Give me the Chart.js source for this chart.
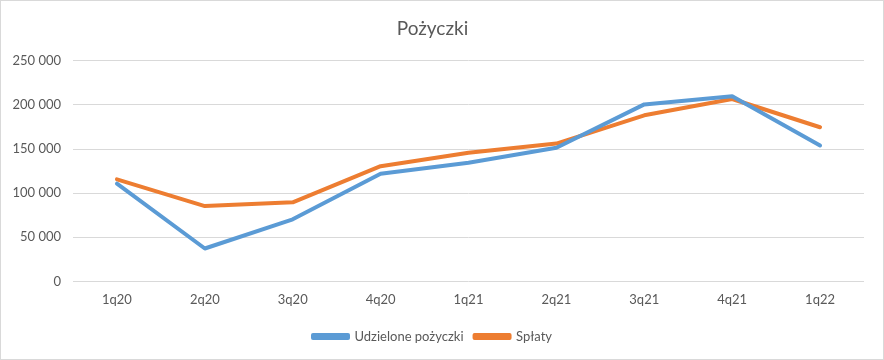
<!DOCTYPE html>
<html>
<head>
<meta charset="utf-8">
<script src="https://cdn.jsdelivr.net/npm/chart.js@4.4.1/dist/chart.umd.min.js"></script>
<style>
  html, body { margin: 0; padding: 0; background: #fff; }
  #wrap { width: 884px; height: 360px; box-sizing: border-box; border: 1px solid #d9d9d9; background: #fff; }
  canvas { display: block; }
</style>
</head>
<body>
<div id="wrap"><canvas id="c" width="882" height="358"></canvas></div>
<script>
const categories = ["1q20", "2q20", "3q20", "4q20", "1q21", "2q21", "3q21", "4q21", "1q22"];
const udzielonePozyczki = [110700, 37300, 70400, 122000, 134400, 151400, 200600, 209700, 154000];
const splaty = [115600, 85400, 89600, 130600, 145700, 156200, 188200, 206700, 174700];
const yTicks = [0, 50000, 100000, 150000, 200000, 250000];
const chartTitle = "Pożyczki";
const seriesNames = ["Udzielone pożyczki", "Spłaty"];

const FONT = "Lato, 'Open Sans', sans-serif";
const fmt = v => String(v).replace(/\B(?=(\d{3})+(?!\d))/g, " ");

new Chart(document.getElementById("c"), {
  type: "line",
  data: {
    labels: categories,
    datasets: [
      { label: seriesNames[0], data: udzielonePozyczki, borderColor: "#5B9BD5", backgroundColor: "#5B9BD5",
        borderWidth: 4, pointRadius: 0, tension: 0, borderCapStyle: "round", borderJoinStyle: "round" },
      { label: seriesNames[1], data: splaty, borderColor: "#ED7D31", backgroundColor: "#ED7D31",
        borderWidth: 4, pointRadius: 0, tension: 0, borderCapStyle: "round", borderJoinStyle: "round" }
    ]
  },
  options: {
    responsive: false,
    animation: false,
    layout: { padding: { left: 0, right: 19, top: 0, bottom: 6 } },
    plugins: {
      title: {
        display: true, text: chartTitle, color: "#595959",
        font: { family: FONT, size: 19, weight: "normal" },
        padding: { top: 16, bottom: 21 }
      },
      legend: {
        position: "bottom",
        labels: {
          color: "#595959", font: { family: FONT, size: 13 },
          boxWidth: 35, boxHeight: 3, padding: 11
        }
      },
      tooltip: { enabled: false }
    },
    scales: {
      x: {
        offset: true,
        grid: { display: false, drawTicks: false },
        border: { display: false },
        ticks: { color: "#595959", font: { family: FONT, size: 13 }, padding: 11 }
      },
      y: {
        min: 0, max: 250000,
        afterFit: s => { s.width = 72; },
        afterBuildTicks: s => { s.ticks = yTicks.map(v => ({ value: v })); },
        grid: { color: "#d9d9d9", lineWidth: 1, drawTicks: false },
        border: { display: false },
        ticks: { color: "#595959", font: { family: FONT, size: 13 }, padding: 12, callback: v => fmt(v) }
      }
    }
  }
});
</script>
</body>
</html>
